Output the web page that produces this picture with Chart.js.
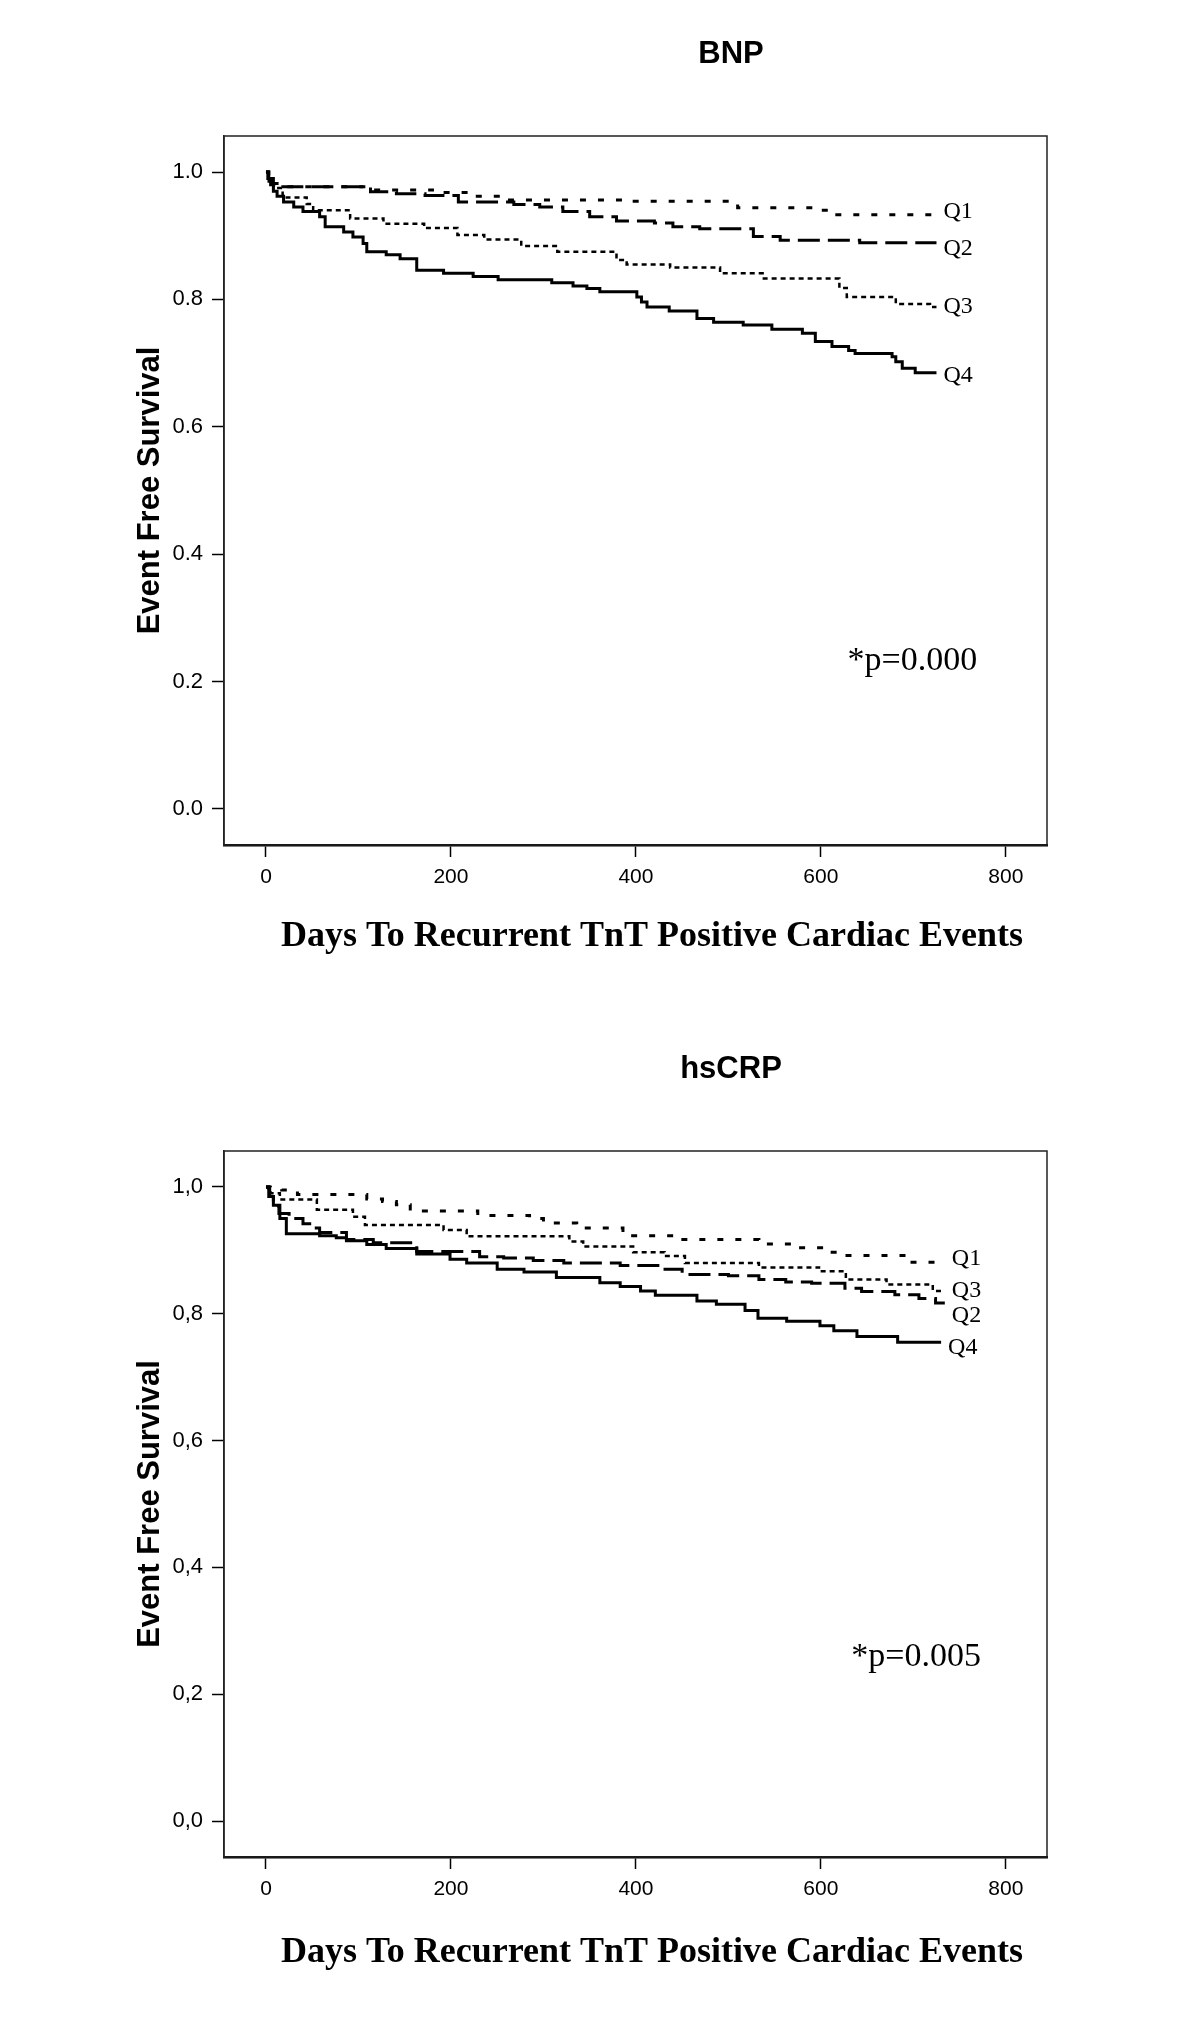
<!DOCTYPE html>
<html>
<head>
<meta charset="utf-8">
<title>Event free survival by BNP and hsCRP quartiles</title>
<script src="https://cdn.jsdelivr.net/npm/chart.js@4.4.0/dist/chart.umd.min.js"></script>
<style>
  html, body { margin: 0; padding: 0; background: #fff; }
  #wrap { position: relative; width: 1200px; height: 2031px; }
  .panel { position: absolute; left: 0; width: 1200px; }
</style>
</head>
<body>
<div id="wrap">
  <div class="panel" style="top:0;height:1000px"><canvas id="bnpChart" width="1200" height="1000"></canvas></div>
  <div class="panel" style="top:1000px;height:1031px"><canvas id="crpChart" width="1200" height="1031"></canvas></div>
</div>
<script>
// quartile names and axis ticks
const quartiles = ['Q1', 'Q2', 'Q3', 'Q4'];
const xTickValues = [0, 200, 400, 600, 800];
const yTickValues = [0, 0.2, 0.4, 0.6, 0.8, 1.0];

// BNP: Kaplan-Meier steps (day of event, survival after it)
const bnpQ1Days = [0, 3, 8, 12, 110, 180, 225, 260, 390, 510, 600, 608, 725];
const bnpQ1Surv = [1.0, 0.99, 0.982, 0.977, 0.972, 0.968, 0.962, 0.956, 0.954, 0.944, 0.940, 0.933, 0.933];

const bnpQ2Days = [0, 3, 8, 11, 113, 141, 172, 208, 268, 296, 321, 350, 379, 420, 440, 469, 527, 556, 642, 725];
const bnpQ2Surv = [1.0, 0.99, 0.98, 0.977, 0.969, 0.966, 0.963, 0.953, 0.949, 0.945, 0.938, 0.930, 0.923, 0.920, 0.914, 0.911, 0.899, 0.893, 0.889, 0.889];

const bnpQ3Days = [0, 3, 8, 18, 44, 51, 91, 127, 171, 207, 236, 276, 315, 379, 390, 437, 491, 537, 620, 628, 681, 718, 725];
const bnpQ3Surv = [1.0, 0.985, 0.975, 0.960, 0.950, 0.940, 0.927, 0.919, 0.912, 0.901, 0.894, 0.884, 0.875, 0.862, 0.855, 0.850, 0.841, 0.833, 0.818, 0.804, 0.793, 0.788, 0.788];

const bnpQ4Days = [0, 2, 5, 8, 12, 19, 30, 40, 58, 64, 84, 94, 105, 109, 130, 145, 163, 192, 224, 251, 309, 332, 347, 361, 401, 406, 412, 436, 466, 484, 516, 547, 580, 594, 612, 630, 637, 677, 681, 688, 702, 725];
const bnpQ4Surv = [1.0, 0.99, 0.98, 0.97, 0.962, 0.953, 0.945, 0.938, 0.930, 0.914, 0.906, 0.898, 0.888, 0.875, 0.870, 0.864, 0.846, 0.841, 0.836, 0.831, 0.826, 0.821, 0.817, 0.812, 0.804, 0.796, 0.788, 0.782, 0.770, 0.764, 0.760, 0.753, 0.747, 0.734, 0.726, 0.720, 0.715, 0.710, 0.702, 0.692, 0.685, 0.685];

// hsCRP
const crpQ1Days = [0, 3, 17, 34, 109, 126, 141, 156, 229, 285, 300, 336, 386, 442, 533, 569, 605, 620, 692, 734];
const crpQ1Surv = [1.0, 0.998, 0.995, 0.988, 0.981, 0.977, 0.972, 0.962, 0.955, 0.950, 0.943, 0.935, 0.923, 0.917, 0.910, 0.904, 0.897, 0.892, 0.881, 0.881];

const crpQ2Days = [0, 4, 8, 14, 25, 40, 52, 58, 87, 116, 163, 231, 257, 289, 322, 383, 426, 450, 500, 533, 562, 590, 626, 644, 680, 706, 724, 734];
const crpQ2Surv = [1.0, 0.985, 0.970, 0.958, 0.950, 0.942, 0.935, 0.928, 0.917, 0.912, 0.898, 0.890, 0.888, 0.884, 0.880, 0.876, 0.870, 0.862, 0.860, 0.854, 0.850, 0.848, 0.840, 0.835, 0.830, 0.824, 0.817, 0.817];

const crpQ3Days = [0, 5, 15, 55, 94, 107, 192, 217, 328, 343, 397, 431, 453, 533, 598, 627, 671, 721, 734];
const crpQ3Surv = [1.0, 0.99, 0.980, 0.964, 0.953, 0.940, 0.932, 0.922, 0.914, 0.906, 0.897, 0.891, 0.880, 0.873, 0.867, 0.854, 0.846, 0.836, 0.836];

const crpQ4Days = [0, 3, 8, 15, 22, 58, 76, 87, 109, 130, 163, 199, 217, 250, 279, 314, 361, 383, 405, 421, 466, 487, 518, 532, 563, 599, 614, 639, 683, 730];
const crpQ4Surv = [1.0, 0.985, 0.971, 0.950, 0.926, 0.923, 0.920, 0.915, 0.909, 0.903, 0.894, 0.886, 0.880, 0.870, 0.866, 0.857, 0.849, 0.843, 0.836, 0.829, 0.820, 0.815, 0.805, 0.793, 0.788, 0.781, 0.773, 0.764, 0.755, 0.755];

// line look per quartile
const lineStyles = [
  { borderDash: [6, 12], borderWidth: 3 },    // Q1 sparse dots
  { borderDash: [22, 8], borderWidth: 3 },    // Q2 long dash
  { borderDash: [5, 4], borderWidth: 2.5 },   // Q3 fine dash
  { borderDash: [], borderWidth: 3 },         // Q4 solid
];

const SANS = '"Liberation Sans", Arial, sans-serif';
const SERIF = '"Liberation Serif", "Times New Roman", serif';

Chart.defaults.font.family = SANS;
Chart.defaults.color = '#000';

function toPoints(days, surv) {
  return days.map((d, i) => ({ x: d, y: surv[i] }));
}

// frame, titles, quartile tags and p value
const kmText = {
  id: 'kmText',
  afterDraw(chart, args, o) {
    const { ctx, chartArea: a, scales: { x, y } } = chart;
    ctx.save();
    ctx.strokeStyle = '#222';
    ctx.lineWidth = 1.5;
    ctx.strokeRect(a.left, a.top, a.right - a.left, a.bottom - a.top);

    ctx.fillStyle = '#000';
    ctx.textAlign = 'center';
    ctx.textBaseline = 'middle';

    ctx.font = 'bold 31px ' + SANS;
    ctx.fillText(o.title, a.left + 507, a.top - 82);

    // y title, rotated
    ctx.save();
    ctx.translate(a.left - 74, (a.top + a.bottom) / 2);
    ctx.rotate(-Math.PI / 2);
    ctx.fillText('Event Free Survival', 0, 0);
    ctx.restore();

    ctx.font = 'bold 36px ' + SERIF;
    ctx.fillText('Days To Recurrent TnT Positive Cardiac Events', a.left + 428, a.bottom + o.xTitleGap);

    ctx.font = '34px ' + SERIF;
    ctx.fillText(o.pText, x.getPixelForValue(o.pDay), y.getPixelForValue(o.pValue));

    ctx.font = '24px ' + SERIF;
    ctx.textAlign = 'left';
    chart.data.datasets.forEach((ds, i) => {
      const last = ds.data[ds.data.length - 1];
      ctx.fillText(ds.label, x.getPixelForValue(last.x) + o.labelDx, y.getPixelForValue(last.y) + o.labelDy[i]);
    });
    ctx.restore();
  }
};

function makeChart(id, cfg) {
  const canvas = document.getElementById(id);
  const datasets = cfg.series.map((s, i) => ({
    label: quartiles[i],
    data: toPoints(s[0], s[1]),
    borderColor: '#000',
    borderWidth: lineStyles[i].borderWidth,
    borderDash: lineStyles[i].borderDash,
    borderCapStyle: 'butt',
    stepped: true,
    pointRadius: 0,
    fill: false,
    tension: 0,
  }));

  return new Chart(canvas, {
    type: 'line',
    data: { datasets },
    plugins: [kmText],
    options: {
      responsive: false,
      animation: false,
      layout: { padding: { left: 0, top: cfg.top, right: 153, bottom: 0 } },
      scales: {
        x: {
          type: 'linear',
          min: -45.4,
          max: 844.5,
          afterBuildTicks: s => { s.ticks = xTickValues.map(v => ({ value: v })); },
          afterFit: s => { s.height = canvas.height - cfg.bottom; },
          grid: { drawOnChartArea: false, drawTicks: true, tickLength: 12, tickWidth: 1.5, tickColor: '#000' },
          border: { display: true, color: '#000', width: 2.5 },
          ticks: { padding: 8, font: { size: 21 }, maxRotation: 0, callback: v => String(v) },
        },
        y: {
          type: 'linear',
          min: -0.0566,
          max: 1.0566,
          afterBuildTicks: s => { s.ticks = yTickValues.map(v => ({ value: v })); },
          afterFit: s => { s.width = 224; },
          grid: { drawOnChartArea: false, drawTicks: true, tickLength: 12, tickWidth: 1.5, tickColor: '#000' },
          border: { display: true, color: '#222', width: 1.5 },
          ticks: { padding: 9, font: { size: 22 }, callback: v => v.toFixed(1).replace('.', cfg.decimal) },
        },
      },
      plugins: {
        legend: { display: false },
        tooltip: { enabled: false },
        kmText: {
          title: cfg.title,
          pText: cfg.pText,
          pDay: cfg.pDay,
          pValue: cfg.pValue,
          xTitleGap: cfg.xTitleGap,
          labelDx: 7,
          labelDy: cfg.labelDy,
        },
      },
    },
  });
}

makeChart('bnpChart', {
  title: 'BNP',
  series: [[bnpQ1Days, bnpQ1Surv], [bnpQ2Days, bnpQ2Surv], [bnpQ3Days, bnpQ3Surv], [bnpQ4Days, bnpQ4Surv]],
  decimal: '.',
  pText: '*p=0.000',
  pDay: 699,
  pValue: 0.232,
  top: 136,
  bottom: 845,
  xTitleGap: 92,
  labelDy: [-3, 6, 0, 3],
});

makeChart('crpChart', {
  title: 'hsCRP',
  series: [[crpQ1Days, crpQ1Surv], [crpQ2Days, crpQ2Surv], [crpQ3Days, crpQ3Surv], [crpQ4Days, crpQ4Surv]],
  decimal: ',',
  pText: '*p=0.005',
  pDay: 703,
  pValue: 0.259,
  top: 151,
  bottom: 857,
  xTitleGap: 96,
  labelDy: [-4, 13, 0, 5],
});
</script>
</body>
</html>
